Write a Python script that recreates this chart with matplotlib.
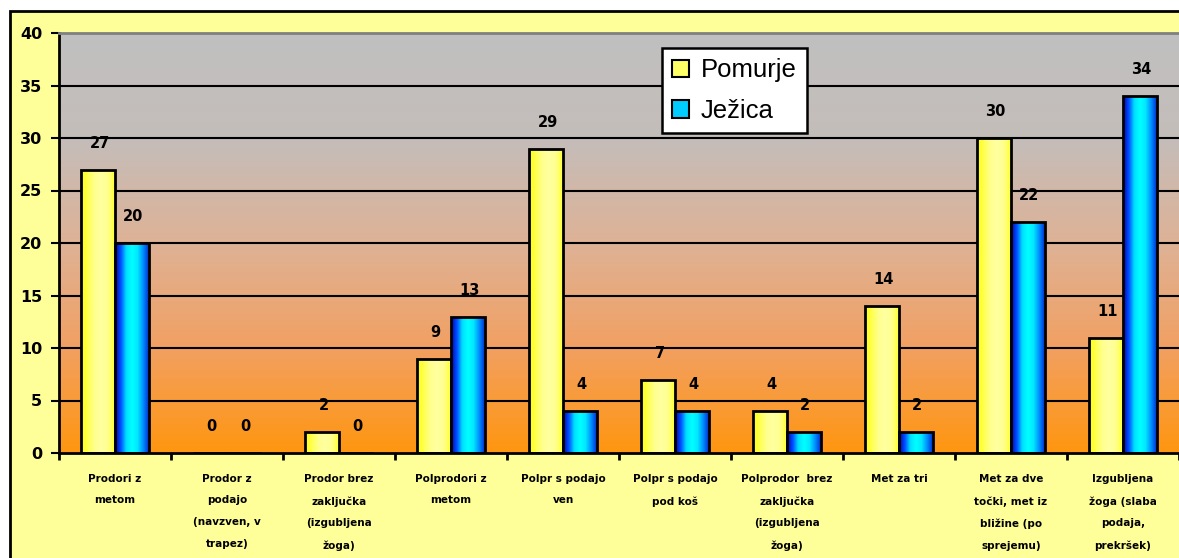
import numpy as np
import matplotlib
matplotlib.use("Agg")
import matplotlib.pyplot as plt
from matplotlib.patches import Rectangle, Patch
from matplotlib.colors import LinearSegmentedColormap

categories = [
    "Prodori z\nmetom",
    "Prodor z\npodajo\n(navzven, v\ntrapez)",
    "Prodor brez\nzaključka\n(izgubljena\nžoga)",
    "Polprodori z\nmetom",
    "Polpr s podajo\nven",
    "Polpr s podajo\npod koš",
    "Polprodor  brez\nzaključka\n(izgubljena\nžoga)",
    "Met za tri",
    "Met za dve\ntočki, met iz\nbližine (po\nsprejemu)",
    "Izgubljena\nžoga (slaba\npodaja,\nprekršek)",
]
pomurje = [27, 0, 2, 9, 29, 7, 4, 14, 30, 11]
jezica = [20, 0, 0, 13, 4, 4, 2, 2, 22, 34]
series_names = ["Pomurje", "Ježica"]
yticks = [0, 5, 10, 15, 20, 25, 30, 35, 40]

W, H = 1179, 558
fig = plt.figure(figsize=(W / 100, H / 100), dpi=100)
fig.patch.set_facecolor("white")

# chart area (yellow box)
fig.patches.append(Rectangle((10 / W, -0.1), 1.2, 1 - 11 / H + 0.1,
                             transform=fig.transFigure, facecolor="#FFFF99",
                             edgecolor="black", lw=2, zorder=-5))

ax = fig.add_axes([59 / W, (H - 453) / H, (1179 - 59) / W, (453 - 33) / H])
ax.set_xlim(-0.5, len(categories) - 0.5)
ax.set_ylim(0, 40)

# gradient background gray -> pinkish tan -> orange (top to bottom)
bg_cmap = LinearSegmentedColormap.from_list(
    "bg", [(0.0, "#C0C0C0"), (0.25, "#C4BDBA"), (0.5, "#DEB296"),
           (0.75, "#F2A062"), (1.0, "#FF9610")])
t = np.linspace(0, 1, 256)[:, None]
ax.imshow(t, cmap=bg_cmap, extent=[-0.5, len(categories) - 0.5, 0, 40],
          aspect="auto", zorder=0, origin="upper")

for y in yticks[1:-1]:
    ax.axhline(y, color="black", lw=1.5, zorder=1)

x = np.arange(len(categories))
w = 0.30
off = 0.15

yel_cmap = LinearSegmentedColormap.from_list(
    "yel", ["#FFFF10", "#FFFF50", "#FFFF90", "#FFFFA0", "#FFFF90", "#FFFF30"])
blu_cmap = LinearSegmentedColormap.from_list(
    "blu", ["#0000C0", "#0050FF", "#00E0FF", "#00FFFF", "#00E8FF", "#0090FF", "#0030D0"])
hgrad = np.linspace(0, 1, 64)[None, :]

def draw(vals, dx, cmap, face):
    bars = ax.bar(x + dx, vals, w, color=face, edgecolor="none", zorder=2)
    for b in bars:
        h = b.get_height()
        if h <= 0:
            continue
        x0 = b.get_x()
        im = ax.imshow(hgrad, cmap=cmap, extent=[x0, x0 + b.get_width(), 0, h],
                       aspect="auto", zorder=2.5)
        im.set_clip_path(b)
    ax.bar(x + dx, vals, w, fill=False, edgecolor="black", lw=2, zorder=3)
    for xi, v in zip(x + dx, vals):
        ax.annotate(str(v), (xi, v), xytext=(1, 19), textcoords="offset points",
                    ha="center", va="center", fontsize=10.5, fontweight="bold",
                    zorder=5)

draw(pomurje, -off, yel_cmap, "#FFFF80")
draw(jezica, off, blu_cmap, "#00CCFF")

ax.set_xlim(-0.5, len(categories) - 0.5)
ax.set_ylim(0, 40)

# axes styling
ax.spines["right"].set_visible(False)
ax.spines["top"].set_color("#808080")
ax.spines["top"].set_linewidth(2)
ax.spines["left"].set_linewidth(2)
ax.spines["bottom"].set_linewidth(2)

ax.set_yticks(yticks)
ax.set_yticklabels([str(v) for v in yticks], fontsize=11.5, fontweight="bold")
ax.tick_params(axis="y", length=6, width=1.5, pad=6)

ax.set_xticks(np.arange(-0.5, len(categories) + 0.5, 1.0))
ax.set_xticklabels([])
ax.tick_params(axis="x", which="major", length=5, width=2, direction="out")
ax.set_xticks(x, minor=True)
ax.set_xticklabels(categories, minor=True, fontsize=7.5, fontweight="bold",
                   linespacing=2.45, va="top")
ax.tick_params(axis="x", which="minor", length=0, pad=15)

handles = [Patch(facecolor="#FFFF66", edgecolor="black", lw=1.5),
           Patch(facecolor="#00CCFF", edgecolor="black", lw=1.5)]
leg = ax.legend(handles, series_names, loc="upper left",
                bbox_to_anchor=(662 / W, 1 - 48 / H), bbox_transform=fig.transFigure,
                frameon=True, fancybox=False, borderaxespad=0, framealpha=1,
                handlelength=0.65, handleheight=0.65, handletextpad=0.45,
                borderpad=0.4, labelspacing=0.65,
                prop={"family": "Liberation Sans", "size": 18.5})
leg.get_frame().set_edgecolor("black")
leg.get_frame().set_facecolor("white")
leg.get_frame().set_linewidth(1.8)
leg.set_zorder(10)

fig.savefig("out.png", dpi=100)
